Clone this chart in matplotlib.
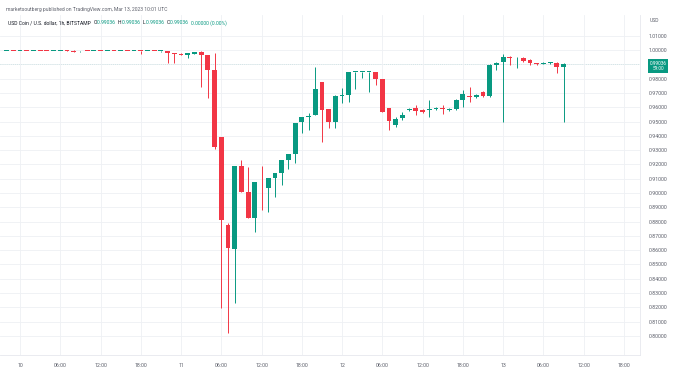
import numpy as np
import matplotlib.pyplot as plt

# USDC / USD 1h candles on Bitstamp, hours counted from Mar 10 00:00 UTC
hours = list(range(-2, 82))
opens = [.9994, .9995, .9994, .9995, .9994, .9995, .9994, .9993, .9994, .9995,
         .9996, .9990, .9994, .9993, .9994, .9993, .9994, .9993, .9994, .9993,
         .9994, .9993, .9994, .9993,
         .9994, .9979, .9974, .9966, .9972, .9986, .9965, .9860, .9392, .8776,
         .8608, .9189, .9007, .8825, .9045, .9035, .9105, .9140, .9231, .9273,
         .9497, .9531, .9545, .9776, .9587, .9497, .9678, .9685, .9846, .9846,
         .9846, .9846, .9797, .9594, .9476, .9524, .9580, .9594, .9580, .9577,
         .9584, .9591, .9580, .9587, .9650, .9678, .9671, .9706, .9678, .9895,
         .9916, .9951, .9941, .9944, .9930, .9905, .9905, .9909, .9909, .9881]
highs = [.9996, .9996, .9996, .9996, .9995, .9996, .9996, .9995, .9996, .9997,
         .9997, .9995, .9995, .9995, .9995, .9995, .9995, .9995, .9995, .9995,
         .9996, .9995, .9995, .9995,
         .9996, .9982, .9976, .9980, .9988, .9990, .9968, .9979, .9392, .8790,
         .9189, .9231, .9182, .9077, .9189, .9105, .9140, .9231, .9273, .9490,
         .9531, .9559, .9881, .9776, .9587, .9685, .9734, .9846, .9849, .9849,
         .9849, .9846, .9797, .9594, .9531, .9566, .9594, .9615, .9590, .9650,
         .9601, .9615, .9594, .9657, .9720, .9741, .9692, .9713, .9902, .9916,
         .9972, .9958, .9951, .9951, .9937, .9909, .9916, .9916, .9916, .9909]
lows = [.9992, .9993, .9993, .9993, .9993, .9993, .9992, .9992, .9993, .9993,
        .9986, .9989, .9993, .9992, .9992, .9992, .9993, .9992, .9992, .9992,
        .9972, .9992, .9992, .9988,
        .9909, .9909, .9965, .9944, .9970, .9741, .9664, .9310, .8196, .8021,
        .8231, .9007, .8825, .8727, .8881, .8867, .8972, .9056, .9168, .9210,
        .9420, .9441, .9545, .9357, .9455, .9455, .9629, .9636, .9727, .9804,
        .9706, .9755, .9566, .9441, .9462, .9510, .9573, .9545, .9559, .9531,
        .9577, .9552, .9573, .9580, .9601, .9636, .9664, .9671, .9671, .9860,
        .9497, .9895, .9874, .9916, .9895, .9895, .9902, .9905, .9839, .9497]
closes = [.9995, .9994, .9995, .9994, .9995, .9994, .9993, .9994, .9995, .9994,
          .9989, .9994, .9993, .9994, .9993, .9994, .9993, .9994, .9993, .9994,
          .9993, .9994, .9993, .9994,
          .9979, .9975, .9968, .9979, .9986, .9965, .9860, .9322, .8811, .8615,
          .9189, .9007, .8825, .9077, .9040, .9105, .9140, .9231, .9273, .9490,
          .9531, .9538, .9727, .9580, .9497, .9678, .9685, .9846, .9849, .9849,
          .9849, .9797, .9566, .9503, .9517, .9545, .9587, .9573, .9566, .9584,
          .9591, .9584, .9587, .9650, .9692, .9671, .9685, .9678, .9895, .9909,
          .9951, .9944, .9944, .9923, .9909, .9902, .9909, .9912, .9881, .99036]

price_ticks = [0.80, 0.81, 0.82, 0.83, 0.84, 0.85, 0.86, 0.87, 0.88, 0.89, 0.90,
               0.91, 0.92, 0.93, 0.94, 0.95, 0.96, 0.97, 0.98, 0.99, 1.00, 1.01]
time_ticks = [0, 6, 12, 18, 24, 30, 36, 42, 48, 54, 60, 66, 72, 78, 84, 90]
time_labels = ['10', '06:00', '12:00', '18:00', '11', '06:00', '12:00', '18:00',
               '12', '06:00', '12:00', '18:00', '13', '06:00', '12:00', '18:00']
last_price = 0.99036

plt.rcParams['font.family'] = 'Roboto'
up = '#089981'
down = '#f23645'
txt = '#5d606b'

fig = plt.figure(figsize=(6.74, 3.74), dpi=100)
ax = fig.add_axes([0, 19 / 374, 640 / 674, 340 / 374])

o = np.array(opens)
c = np.array(closes)
cols = [up if cc >= oo else down for oo, cc in zip(o, c)]
bottoms = np.minimum(o, c)
heights = np.maximum(np.abs(c - o), 0.0005)

ax.vlines(hours, lows, highs, colors=cols, lw=0.7, zorder=2)
ax.bar(hours, heights, bottom=bottoms, width=0.72, color=cols, linewidth=0, zorder=3)

ax.axhline(last_price, color=up, lw=0.6, ls=(0, (1, 1.5)), zorder=1)

ax.set_xlim(-2.98, 92.4)
ax.set_ylim(0.78671, 1.02448)
ax.set_xticks(time_ticks)
ax.set_xticklabels(time_labels)
ax.set_yticks(price_ticks)
ax.set_yticklabels(['' if abs(p - 0.99) < 1e-9 else f'{p:.5f}' for p in price_ticks])
ax.yaxis.tick_right()
ax.tick_params(axis='both', length=0, labelsize=3.8, colors=txt)
ax.tick_params(axis='x', pad=6)
ax.tick_params(axis='y', pad=6.5)
ax.grid(color='#eef0f4', lw=0.6, zorder=0)
for s in ['top', 'left']:
    ax.spines[s].set_visible(False)
for s in ['right', 'bottom']:
    ax.spines[s].set_color('#e6e8ee')
    ax.spines[s].set_linewidth(0.6)

# header
fig.text(6 / 674, 1 - 9 / 374, 'marketsoutberg published on TradingView.com, Mar 13, 2023 10:01 UTC',
         fontsize=3.6, color=txt, va='center')

# legend line, pieces chained one after another
renderer = fig.canvas.get_renderer()
pieces = [('USD Coin / U.S. dollar, 1h, BITSTAMP  ', '#131722'),
          ('O', '#131722'), ('0.99036  ', up),
          ('H', '#131722'), ('0.99036  ', up),
          ('L', '#131722'), ('0.99036  ', up),
          ('C', '#131722'), ('0.99036  ', up),
          ('0.00000 (0.00%)', up)]
x = 8
for s, col in pieces:
    t = fig.text(x / 674, 1 - 23 / 374, s, fontsize=3.6, color=col, va='center')
    x += t.get_window_extent(renderer).width + 0.3

fig.text(650 / 674, 1 - 21 / 374, 'USD', fontsize=3.6, color=txt, va='center')
fig.text(658 / 674, 1 - 66 / 374, '0.99036\n59:00', fontsize=3.4, color='white',
         ha='center', va='center', linespacing=1.0,
         bbox=dict(boxstyle='square,pad=0.35', fc=up, ec='none'))

fig.savefig('out.png', dpi=100)
